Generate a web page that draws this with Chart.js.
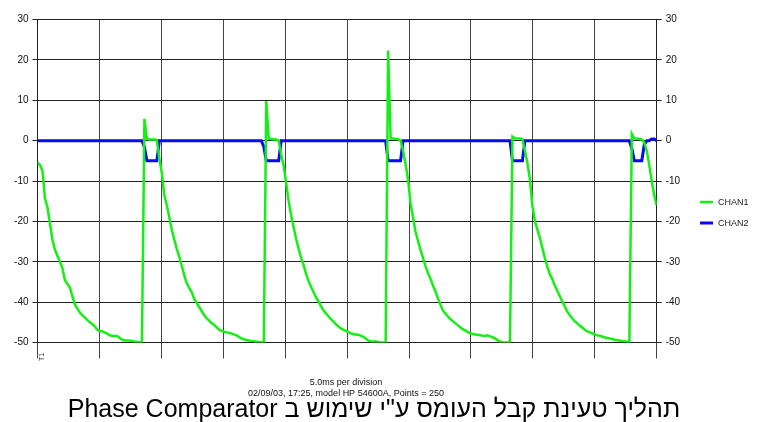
<!DOCTYPE html>
<html>
<head>
<meta charset="utf-8">
<script src="https://cdn.jsdelivr.net/npm/chart.js@4.4.1/dist/chart.umd.min.js"></script>
<style>
  html, body { margin: 0; padding: 0; background: #fff; }
  #scope { display: block; }
</style>
</head>
<body>
<canvas id="scope" width="762" height="422"></canvas>
<script>
// Scope capture data (250 points, 5.0ms per division)

const seriesNames = ['CHAN1', 'CHAN2'];

// CHAN1 - capacitor voltage
const chan1 = [
    -5.5, -6, -7.5, -14.3, -16.5, -20.5, -24.5, -27, -28.5, -30,
    -31.5, -34.5, -35.5, -36.3, -38.5, -40.5, -41.6, -42.5, -43.2, -43.8,
    -44.4, -45, -45.4, -46, -46.8, -47.2, -47.2, -47.5, -47.8, -48.2,
    -48.4, -48.4, -48.4, -48.8, -49.3, -49.5, -49.5, -49.5, -49.6, -49.8,
    -49.8, -50, -50, 5.4, 0.4, 0.3, 0.3, 0.3, 0.2, -4.5,
    -8, -13.5, -16, -19, -22, -24.5, -26.8, -28.7, -31, -33.3,
    -35.3, -36.5, -37.5, -39.2, -40.2, -41.2, -42.2, -43.2, -44, -44.6,
    -45.2, -45.6, -46.2, -46.8, -47.1, -47.3, -47.5, -47.6, -47.8, -48,
    -48.2, -48.6, -49, -49.2, -49.4, -49.5, -49.6, -49.7, -49.8, -49.9,
    -50, -50, 9.8, 0.5, 0.4, 0.3, 0.3, 0, -3.5, -6.2,
    -10.5, -15, -18.5, -21.5, -24.3, -26.8, -29, -30.8, -33, -34.8,
    -36.2, -37.5, -38.8, -39.8, -41, -42, -42.8, -43.5, -44.2, -44.8,
    -45.5, -46, -46.5, -46.8, -47.1, -47.4, -47.7, -47.9, -48, -48.1,
    -48.3, -48.6, -49, -49.5, -49.7, -49.8, -49.7, -49.9, -50, -50,
    -50, 22.3, 0.5, 0.5, 0.4, 0.4, 0, -2.5, -5.8, -9.5,
    -15.5, -19, -22.5, -24.8, -27, -29, -31, -32.8, -34.2, -35.8,
    -37.3, -39, -40.6, -42, -42.8, -43.5, -44.2, -44.7, -45.2, -45.7,
    -46.2, -46.7, -47, -47.4, -47.7, -47.9, -48, -48.1, -48.2, -48.3,
    -48.4, -48.2, -48.5, -48.7, -49, -49.4, -49.8, -50, -50, -50,
    -50, 1, 0.6, 0.5, 0.5, 0.4, -2.5, -5.5, -9.5, -16,
    -19.9, -22, -24, -26.5, -29, -31.2, -33, -34.3, -35.8, -37.2,
    -38.5, -39.8, -41, -42.3, -43.2, -44, -44.7, -45.2, -45.8, -46.3,
    -46.8, -47.2, -47.5, -47.7, -48, -48.2, -48.3, -48.5, -48.7, -48.9,
    -49, -49.1, -49.3, -49.4, -49.5, -49.6, -49.7, -49.8, -50, 1.7,
    0.5, 0.5, 0.4, 0.3, -0.5, -2.5, -6, -10, -13.5, -16
];

// CHAN2 - comparator output
const chan2 = [
    0, 0, 0, 0, 0, 0, 0, 0, 0, 0,
    0, 0, 0, 0, 0, 0, 0, 0, 0, 0,
    0, 0, 0, 0, 0, 0, 0, 0, 0, 0,
    0, 0, 0, 0, 0, 0, 0, 0, 0, 0,
    0, 0, 0, -1.6, -5, -5, -5, -5, -5, 0,
    0, 0, 0, 0, 0, 0, 0, 0, 0, 0,
    0, 0, 0, 0, 0, 0, 0, 0, 0, 0,
    0, 0, 0, 0, 0, 0, 0, 0, 0, 0,
    0, 0, 0, 0, 0, 0, 0, 0, 0, 0,
    0, -1.5, -5, -5, -5, -5, -5, -5, 0, 0,
    0, 0, 0, 0, 0, 0, 0, 0, 0, 0,
    0, 0, 0, 0, 0, 0, 0, 0, 0, 0,
    0, 0, 0, 0, 0, 0, 0, 0, 0, 0,
    0, 0, 0, 0, 0, 0, 0, 0, 0, 0,
    0, -5, -5, -5, -5, -5, -5, 0, 0, 0,
    0, 0, 0, 0, 0, 0, 0, 0, 0, 0,
    0, 0, 0, 0, 0, 0, 0, 0, 0, 0,
    0, 0, 0, 0, 0, 0, 0, 0, 0, 0,
    0, 0, 0, 0, 0, 0, 0, 0, 0, 0,
    0, -5, -5, -5, -5, -5, 0, 0, 0, 0,
    0, 0, 0, 0, 0, 0, 0, 0, 0, 0,
    0, 0, 0, 0, 0, 0, 0, 0, 0, 0,
    0, 0, 0, 0, 0, 0, 0, 0, 0, 0,
    0, 0, 0, 0, 0, 0, 0, 0, 0, -2,
    -5, -5, -5, -5, -1, 0, 0, 0.4, 0.4, 0
];

// sample numbers on the x axis, 10 divisions across the record
const samples = chan1.map((v, i) => i);
const divisions = [0, 1, 2, 3, 4, 5, 6, 7, 8, 9, 10];
const yTicks = [30, 20, 10, 0, -10, -20, -30, -40, -50];

const captionLines = [
    '5.0ms per division',
    '02/09/03, 17:25, model HP 54600A, Points = 250'
];
const chartTitle = 'תהליך טעינת קבל העומס ע"י שימוש ב Phase Comparator';

const fontFamily = '"Liberation Sans", Arial, sans-serif';

// Legend at right, captions below - drawn by hand
const scopeText = {
    id: 'scopeText',
    afterDraw(chart) {
        const ctx = chart.ctx;
        ctx.save();

        // legend
        ctx.font = '9px ' + fontFamily;
        ctx.textBaseline = 'middle';
        ctx.textAlign = 'left';
        chart.data.datasets.forEach((ds, i) => {
            const y = 202 + i * 21;
            ctx.strokeStyle = ds.borderColor;
            ctx.lineWidth = ds.borderWidth;
            ctx.beginPath();
            ctx.moveTo(700, y);
            ctx.lineTo(713, y);
            ctx.stroke();
            ctx.fillStyle = '#222';
            ctx.fillText(ds.label, 718, y + 0.5);
        });

        // captions
        ctx.textAlign = 'center';
        ctx.fillStyle = '#111';
        ctx.font = '9px ' + fontFamily;
        ctx.fillText(captionLines[0], 346, 383);
        ctx.fillText(captionLines[1], 346, 394);

        ctx.font = '25px ' + fontFamily;
        ctx.textBaseline = 'alphabetic';
        ctx.direction = 'rtl';
        ctx.fillStyle = '#000';
        ctx.fillText(chartTitle, 374, 417);
        ctx.direction = 'ltr';

        // trigger marker
        ctx.textBaseline = 'middle';
        ctx.translate(42, 357);
        ctx.rotate(-Math.PI / 2);
        ctx.font = '7px ' + fontFamily;
        ctx.fillStyle = '#333';
        ctx.fillText('T1', 0, 0);

        ctx.restore();
    }
};

const ctx = document.getElementById('scope');

const scopeChart = new Chart(ctx, {
    type: 'line',
    data: {
        labels: samples,
        datasets: [{
            label: seriesNames[0],
            data: chan1,
            borderColor: '#14f014',
            borderWidth: 2.5,
            pointRadius: 0,
            tension: 0,
            fill: false
        }, {
            label: seriesNames[1],
            data: chan2,
            borderColor: '#0a0af0',
            borderWidth: 3,
            pointRadius: 0,
            tension: 0,
            fill: false
        }]
    },
    options: {
        responsive: false,
        animation: false,
        events: [],
        layout: {
            padding: { top: 19.5, left: 0, right: 0, bottom: 0 }
        },
        plugins: {
            legend: { display: false },
            tooltip: { enabled: false }
        },
        scales: {
            x: {
                type: 'linear',
                min: 0,
                max: samples.length - 1,
                afterBuildTicks: scale => {
                    const last = samples.length - 1;
                    scale.ticks = divisions.map(d => ({ value: d * last / 10 }));
                },
                afterFit: scale => { scale.height = 79.5; },
                ticks: { callback: () => '' },
                grid: { color: '#444', lineWidth: 1, tickLength: 16 },
                border: { display: false }
            },
            y: {
                position: 'left',
                min: -50,
                max: 30,
                afterBuildTicks: scale => {
                    scale.ticks = yTicks.map(v => ({ value: v }));
                },
                afterFit: scale => { scale.width = 37.5; },
                ticks: {
                    padding: 4,
                    color: '#111',
                    font: { family: fontFamily, size: 10 }
                },
                grid: { color: '#222', lineWidth: 1, tickLength: 5 },
                border: { color: '#222' }
            },
            y2: {
                position: 'right',
                min: -50,
                max: 30,
                afterBuildTicks: scale => {
                    scale.ticks = yTicks.map(v => ({ value: v }));
                },
                afterFit: scale => { scale.width = 762 - 656.7; },
                ticks: {
                    padding: 4,
                    color: '#111',
                    font: { family: fontFamily, size: 10 }
                },
                grid: { color: '#222', lineWidth: 1, tickLength: 5, drawOnChartArea: false },
                border: { color: '#222' }
            }
        }
    },
    plugins: [scopeText]
});
</script>
</body>
</html>
